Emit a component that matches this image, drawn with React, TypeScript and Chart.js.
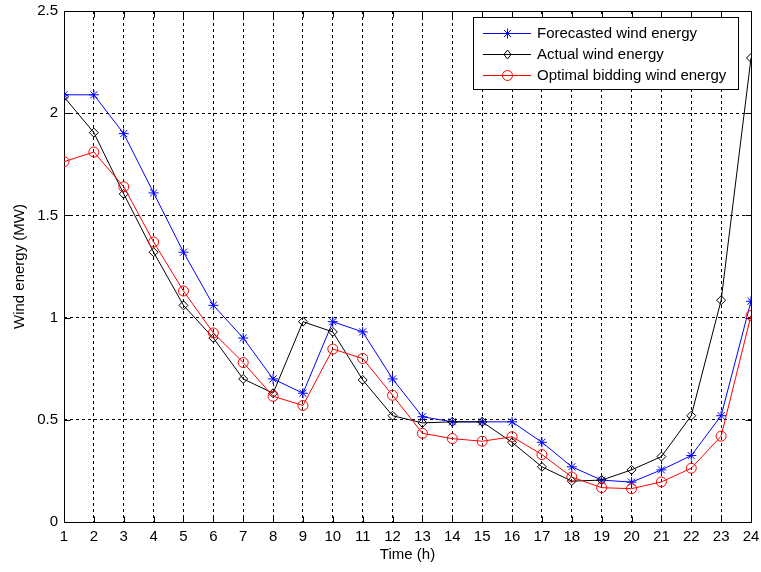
import React, { useEffect, useRef } from "react";
import { Chart, registerables } from "chart.js";

Chart.register(...registerables);

const hours = [1, 2, 3, 4, 5, 6, 7, 8, 9, 10, 11, 12, 13, 14, 15, 16, 17, 18, 19, 20, 21, 22, 23, 24];
const forecasted = [2.09, 2.09, 1.9, 1.61, 1.32, 1.06, 0.9, 0.7, 0.63, 0.98, 0.93, 0.7, 0.515, 0.49, 0.49, 0.49, 0.39, 0.27, 0.205, 0.195, 0.255, 0.325, 0.52, 1.08];
const actual = [2.08, 1.905, 1.605, 1.32, 1.06, 0.9, 0.7, 0.63, 0.98, 0.93, 0.695, 0.52, 0.485, 0.49, 0.49, 0.39, 0.27, 0.2, 0.205, 0.255, 0.32, 0.52, 1.085, 2.27];
const optimal = [1.763, 1.81, 1.64, 1.37, 1.13, 0.925, 0.78, 0.615, 0.57, 0.846, 0.8, 0.62, 0.434, 0.408, 0.395, 0.417, 0.33, 0.22, 0.168, 0.163, 0.196, 0.263, 0.42, 1.01];
const yTicks = [0, 0.5, 1, 1.5, 2, 2.5];
const seriesLabels = ["Forecasted wind energy", "Actual wind energy", "Optimal bidding wind energy"];
const seriesColors = ["#0000ff", "#000000", "#ff0000"];
const seriesMarkers = ["star", "rectRot", "circle"];

const FONT = "'Liberation Sans', Arial, Helvetica, sans-serif";

function drawMarker(ctx: CanvasRenderingContext2D, style: string, x: number, y: number, r: number, color: string) {
  ctx.save();
  ctx.strokeStyle = color;
  ctx.lineWidth = 1;
  ctx.setLineDash([]);
  ctx.beginPath();
  if (style === "star") {
    ctx.moveTo(x - r, y); ctx.lineTo(x + r, y);
    ctx.moveTo(x, y - r); ctx.lineTo(x, y + r);
    const d = r * 0.7071;
    ctx.moveTo(x - d, y - d); ctx.lineTo(x + d, y + d);
    ctx.moveTo(x - d, y + d); ctx.lineTo(x + d, y - d);
  } else if (style === "rectRot") {
    ctx.moveTo(x, y - r); ctx.lineTo(x + r * 0.8, y); ctx.lineTo(x, y + r); ctx.lineTo(x - r * 0.8, y); ctx.closePath();
  } else {
    ctx.arc(x, y, r, 0, Math.PI * 2);
  }
  ctx.stroke();
  ctx.restore();
}

const framePlugin = {
  id: "matlabFrame",
  beforeDatasetsDraw(chart: any) {
    const { ctx, chartArea: a, scales } = chart;
    ctx.save();
    ctx.strokeStyle = "#000";
    ctx.lineWidth = 1;
    ctx.setLineDash([]);
    const L = Math.round(a.left) + 0.5, R = Math.round(a.right) + 0.5, T = Math.round(a.top) + 0.5, B = Math.round(a.bottom) + 0.5;
    ctx.strokeRect(L, T, R - L, B - T);
    const tl = 6;
    ctx.beginPath();
    for (const h of hours) {
      const px = Math.round(scales.x.getPixelForValue(h)) + 0.5;
      ctx.moveTo(px, B); ctx.lineTo(px, B - tl);
      ctx.moveTo(px, T); ctx.lineTo(px, T + tl);
    }
    for (const v of yTicks) {
      const py = Math.round(scales.y.getPixelForValue(v)) + 0.5;
      ctx.moveTo(L, py); ctx.lineTo(L + tl, py);
      ctx.moveTo(R, py); ctx.lineTo(R - tl, py);
    }
    ctx.stroke();
    ctx.restore();
  },
  afterDraw(chart: any) {
    const { ctx } = chart;
    const left = 473.5, top = 17.5, right = 738.5, bottom = 89.5;
    ctx.save();
    ctx.fillStyle = "#fff";
    ctx.fillRect(left, top, right - left, bottom - top);
    ctx.strokeStyle = "#000";
    ctx.lineWidth = 1;
    ctx.setLineDash([]);
    ctx.strokeRect(left, top, right - left, bottom - top);
    const rows = [33.5, 54.5, 75.5];
    chart.data.datasets.forEach((ds: any, i: number) => {
      const y = rows[i];
      ctx.strokeStyle = ds.borderColor;
      ctx.beginPath();
      ctx.moveTo(483, y); ctx.lineTo(531, y);
      ctx.stroke();
      drawMarker(ctx, ds.pointStyle, 507.5, y, ds.pointRadius, ds.borderColor);
      ctx.fillStyle = "#000";
      ctx.font = `15px ${FONT}`;
      ctx.textBaseline = "middle";
      ctx.textAlign = "left";
      ctx.fillText(ds.label, 537, y);
    });
    ctx.restore();
  },
};

export default function App() {
  const ref = useRef<HTMLCanvasElement | null>(null);
  useEffect(() => {
    if (!ref.current) return;
    const series = [forecasted, actual, optimal];
    const chart = new Chart(ref.current, {
      type: "line",
      data: {
        datasets: series.map((vals, i) => ({
          label: seriesLabels[i],
          data: hours.map((h, j) => ({ x: h, y: vals[j] })),
          borderColor: seriesColors[i],
          backgroundColor: "rgba(0,0,0,0)",
          pointBackgroundColor: "rgba(0,0,0,0)",
          pointBorderColor: seriesColors[i],
          pointStyle: seriesMarkers[i] as any,
          pointRadius: i === 1 ? 4.5 : 5,
          pointBorderWidth: 1,
          borderWidth: 1,
          tension: 0,
          fill: false,
          order: 3 - i,
        })),
      },
      options: {
        responsive: false,
        animation: false,
        events: [],
        layout: { padding: { left: 0, top: 11, right: 10, bottom: 0 } },
        plugins: { legend: { display: false }, tooltip: { enabled: false } },
        scales: {
          x: {
            type: "linear",
            min: 1,
            max: 24,
            afterFit: (s: any) => { s.height = 50; s.paddingLeft = 0; s.paddingRight = 0; },
            afterBuildTicks: (s: any) => { s.ticks = hours.map((h) => ({ value: h })); },
            ticks: { color: "#000", font: { family: FONT, size: 15 }, padding: 6, maxRotation: 0, autoSkip: false, callback: (v: any) => String(v) },
            grid: { color: "#000", lineWidth: 1, drawTicks: false },
            border: { display: false, dash: [3, 3] },
            title: { display: true, text: "Time (h)", color: "#000", font: { family: FONT, size: 15 }, padding: { top: 0, bottom: 8 } },
          },
          y: {
            type: "linear",
            min: 0,
            max: 2.5,
            afterFit: (s: any) => { s.width = 64; s.paddingTop = 0; s.paddingBottom = 0; },
            afterBuildTicks: (s: any) => { s.ticks = yTicks.map((v) => ({ value: v })); },
            ticks: { color: "#000", font: { family: FONT, size: 15 }, padding: 6, callback: (v: any) => String(v) },
            grid: { color: "#000", lineWidth: 1, drawTicks: false },
            border: { display: false, dash: [3, 3] },
            title: { display: true, text: "Wind energy (MW)", color: "#000", font: { family: FONT, size: 15 }, padding: { top: 11, bottom: 0 } },
          },
        },
      },
      plugins: [framePlugin],
    });
    return () => chart.destroy();
  }, []);
  return (
    <div style={{ position: "absolute", left: 0, top: 0, width: 761, height: 572, background: "#fff" }}>
      <canvas ref={ref} width={761} height={572} style={{ display: "block" }} />
    </div>
  );
}
